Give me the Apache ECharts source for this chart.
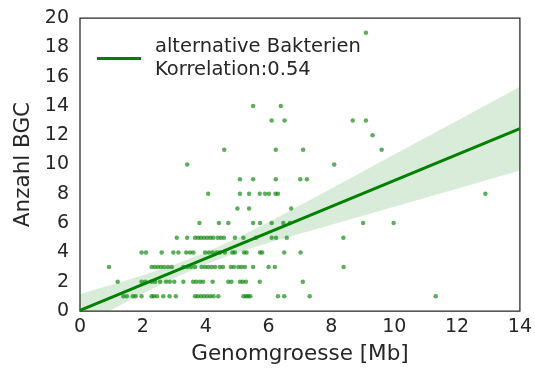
<!DOCTYPE html>
<html>
<head>
<meta charset="utf-8">
<script src="https://cdn.jsdelivr.net/npm/echarts@6/dist/echarts.min.js"></script>
<style>
  html, body { margin: 0; padding: 0; background: #fff; }
  #chart { width: 535px; height: 372px; }
</style>
</head>
<body>
<div id="chart"></div>
<script>
// Genome sizes (Mb) of the strains, grouped by their number of BGCs
const sizesBgc1 = [1.38, 1.49, 1.68, 1.77, 1.96, 2.28, 2.35, 2.45, 2.65, 2.85, 3.05, 3.66, 3.75, 3.85, 3.95, 4.05, 4.15, 4.25, 4.40, 5.20, 5.28, 5.35, 5.42, 6.30, 6.50, 7.31, 11.32];
const sizesBgc2 = [1.20, 1.96, 2.08, 2.28, 2.39, 2.55, 2.74, 2.86, 3.00, 3.29, 3.60, 3.70, 3.82, 3.92, 4.22, 4.72, 4.82, 5.09, 5.18, 5.28, 5.72, 7.09];
const sizesBgc3 = [0.92, 2.28, 2.38, 2.48, 2.58, 2.68, 2.80, 2.92, 3.29, 3.41, 3.53, 3.66, 3.87, 3.98, 4.08, 4.19, 4.30, 4.45, 4.55, 4.80, 4.90, 5.04, 5.14, 5.25, 5.51, 6.00, 6.20, 8.39];
const sizesBgc4 = [1.96, 2.10, 2.60, 2.97, 3.13, 3.38, 3.50, 3.61, 3.98, 4.10, 4.22, 4.35, 4.45, 4.61, 4.85, 4.93, 5.22, 5.30, 5.73, 5.80, 6.50, 7.02];
const sizesBgc5 = [3.08, 3.41, 3.66, 3.76, 3.85, 3.95, 4.05, 4.15, 4.24, 4.38, 4.48, 4.58, 4.93, 5.20, 5.60, 6.10, 6.24, 6.58, 8.38];
const sizesBgc6 = [3.80, 4.42, 4.72, 5.51, 5.73, 6.10, 6.47, 6.68, 9.01, 9.98];
const sizesBgc7 = [5.01, 5.38, 6.72];
const sizesBgc8 = [4.08, 5.09, 5.38, 5.72, 5.89, 6.01, 6.22, 6.30, 12.90];
const sizesBgc9 = [5.09, 5.51, 6.23, 7.01, 7.22];
const sizesBgc10 = [3.41, 8.09];
const sizesBgc11 = [4.59, 6.23, 7.10, 9.60];
const sizesBgc12 = [9.31];
const sizesBgc13 = [6.10, 6.51, 8.68, 9.10];
const sizesBgc14 = [5.51, 6.39];
const sizesBgc19 = [9.10];

const bgcCounts = [1, 2, 3, 4, 5, 6, 7, 8, 9, 10, 11, 12, 13, 14, 19];
const sizeGroups = [sizesBgc1, sizesBgc2, sizesBgc3, sizesBgc4, sizesBgc5, sizesBgc6, sizesBgc7,
  sizesBgc8, sizesBgc9, sizesBgc10, sizesBgc11, sizesBgc12, sizesBgc13, sizesBgc14, sizesBgc19];

// Regression fit and its confidence band
const fitX = [0, 14];
const fitY = [0.05, 12.45];
const bandX = [0, 1, 2, 3, 4, 5, 6, 8, 10, 12, 14];
const bandLow = [-1.05, 0.09, 1.20, 2.26, 3.19, 3.98, 4.66, 5.89, 7.12, 8.35, 9.59];
const bandHigh = [1.15, 1.79, 2.44, 3.16, 3.99, 4.98, 6.06, 8.37, 10.68, 12.99, 15.31];

const xTicks = [0, 2, 4, 6, 8, 10, 12, 14];
const yTicks = [0, 2, 4, 6, 8, 10, 12, 14, 16, 18, 20];
const legendLabel = 'alternative Bakterien\nKorrelation:0.54';

const points = [];
sizeGroups.forEach((group, i) => group.forEach(size => points.push([size, bgcCounts[i]])));

const font = 'DejaVu Sans, sans-serif';
const ink = '#262626';

// Confidence band drawn as one polygon: upper edge forward, lower edge back
function renderBand(params, api) {
  const pts = [];
  bandX.forEach((x, i) => pts.push(api.coord([x, bandHigh[i]])));
  for (let i = bandX.length - 1; i >= 0; i--) pts.push(api.coord([bandX[i], bandLow[i]]));
  return {
    type: 'polygon',
    shape: { points: pts },
    style: { fill: 'rgba(0,128,0,0.15)' }
  };
}

const chart = echarts.init(document.getElementById('chart'), null, { renderer: 'canvas' });
chart.setOption({
  animation: false,
  backgroundColor: '#fff',
  grid: { left: 80, top: 18, right: 15, bottom: 61, show: true, borderColor: ink, borderWidth: 1.25, backgroundColor: 'transparent' },
  legend: {
    left: 92, top: 30,
    itemWidth: 44, itemHeight: 3,
    icon: 'rect',
    data: [legendLabel],
    textStyle: { fontFamily: font, fontSize: 19.5, color: ink, lineHeight: 23.5, padding: [0, 0, 0, 9] }
  },
  xAxis: {
    type: 'value', min: xTicks[0], max: xTicks[xTicks.length - 1], interval: 2,
    name: 'Genomgroesse [Mb]', nameLocation: 'middle', nameGap: 32,
    nameTextStyle: { fontFamily: font, fontSize: 21.5, color: ink },
    axisLine: { show: false }, axisTick: { show: false }, splitLine: { show: false },
    axisLabel: { fontFamily: font, fontSize: 19, color: ink, margin: 7 }
  },
  yAxis: {
    type: 'value', min: yTicks[0], max: yTicks[yTicks.length - 1], interval: 2,
    name: 'Anzahl BGC', nameLocation: 'middle', nameGap: 41,
    nameTextStyle: { fontFamily: font, fontSize: 21.5, color: ink },
    axisLine: { show: false }, axisTick: { show: false }, splitLine: { show: false },
    axisLabel: { fontFamily: font, fontSize: 19, color: ink, margin: 11 }
  },
  series: [
    {
      type: 'custom', name: 'band', data: [[bandX[0], bandLow[0]]],
      renderItem: renderBand, clip: true, silent: true, z: 1
    },
    {
      type: 'scatter', name: 'strains', data: points,
      symbolSize: 4.5, itemStyle: { color: 'rgba(0,128,0,0.8)' }, z: 3
    },
    {
      type: 'line', name: legendLabel,
      data: fitX.map((x, i) => [x, fitY[i]]),
      showSymbol: false, lineStyle: { color: '#008000', width: 3 },
      itemStyle: { color: '#008000' }, z: 4
    }
  ]
});
</script>
</body>
</html>
